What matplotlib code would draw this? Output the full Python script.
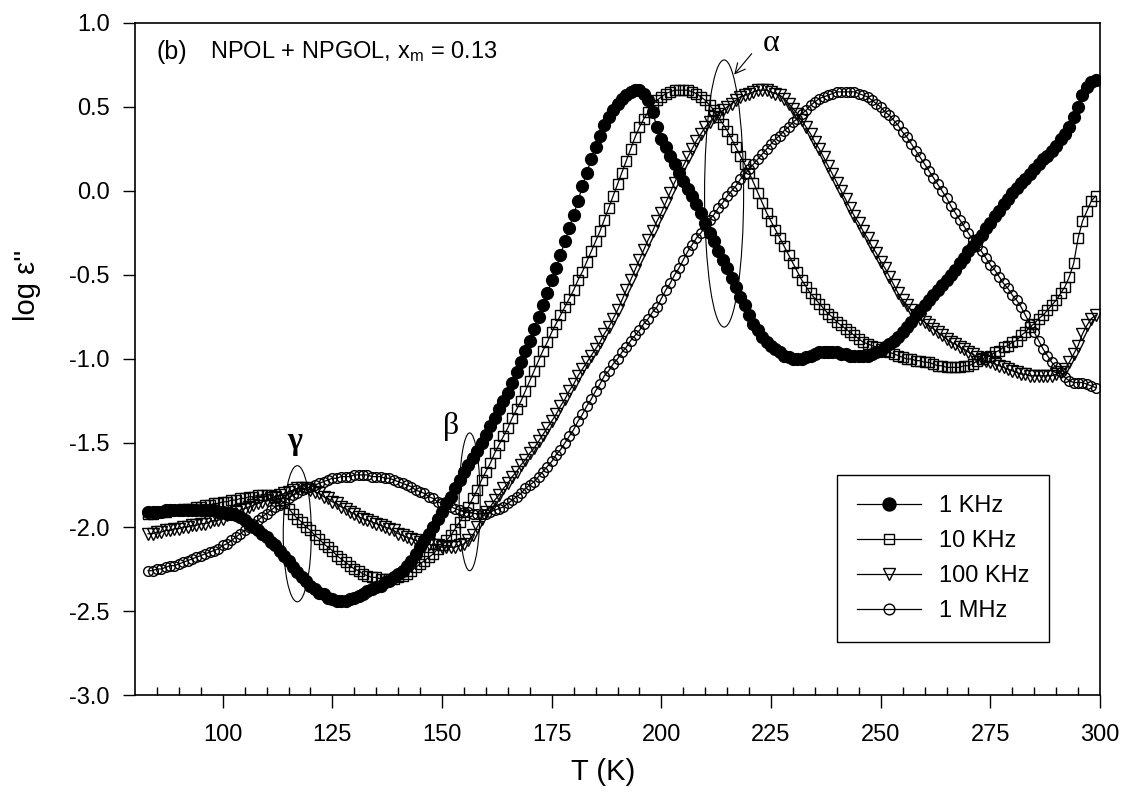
import matplotlib
matplotlib.use("Agg")
import matplotlib.pyplot as plt
from matplotlib.patches import Ellipse
from matplotlib.ticker import FixedLocator

plt.rcParams["font.family"] = ["Liberation Sans", "DejaVu Sans"]
plt.rcParams["axes.unicode_minus"] = False

# measurement temperatures (K)
temperature = [
    83, 84, 85, 86, 87, 88, 89, 90, 91, 92, 93, 94, 95, 96, 97, 98, 99, 100, 101, 102,
    103, 104, 105, 106, 107, 108, 109, 110, 111, 112, 113, 114, 115, 116, 117, 118, 119,
    120, 121, 122, 123, 124, 125, 126, 127, 128, 129, 130, 131, 132, 133, 134, 135, 136,
    137, 138, 139, 140, 141, 142, 143, 144, 145, 146, 147, 148, 149, 150, 151, 152, 153,
    154, 155, 156, 157, 158, 159, 160, 161, 162, 163, 164, 165, 166, 167, 168, 169, 170,
    171, 172, 173, 174, 175, 176, 177, 178, 179, 180, 181, 182, 183, 184, 185, 186, 187,
    188, 189, 190, 191, 192, 193, 194, 195, 196, 197, 198, 199, 200, 201, 202, 203, 204,
    205, 206, 207, 208, 209, 210, 211, 212, 213, 214, 215, 216, 217, 218, 219, 220, 221,
    222, 223, 224, 225, 226, 227, 228, 229, 230, 231, 232, 233, 234, 235, 236, 237, 238,
    239, 240, 241, 242, 243, 244, 245, 246, 247, 248, 249, 250, 251, 252, 253, 254, 255,
    256, 257, 258, 259, 260, 261, 262, 263, 264, 265, 266, 267, 268, 269, 270, 271, 272,
    273, 274, 275, 276, 277, 278, 279, 280, 281, 282, 283, 284, 285, 286, 287, 288, 289,
    290, 291, 292, 293, 294, 295, 296, 297, 298, 299]

# log eps'' at 1 kHz
loss_1k = [
    -1.91, -1.91, -1.91, -1.91, -1.90, -1.90, -1.90, -1.90, -1.90, -1.90, -1.90, -1.90,
    -1.90, -1.90, -1.90, -1.90, -1.91, -1.91, -1.92, -1.92, -1.93, -1.94, -1.96, -1.98,
    -2.00, -2.02, -2.04, -2.06, -2.09, -2.11, -2.14, -2.17, -2.20, -2.24, -2.27, -2.30,
    -2.32, -2.35, -2.37, -2.39, -2.40, -2.42, -2.43, -2.44, -2.44, -2.44, -2.43, -2.42,
    -2.41, -2.40, -2.38, -2.37, -2.36, -2.35, -2.33, -2.32, -2.30, -2.28, -2.26, -2.23,
    -2.20, -2.16, -2.12, -2.08, -2.04, -2.00, -1.95, -1.91, -1.86, -1.82, -1.77, -1.72,
    -1.67, -1.63, -1.59, -1.55, -1.50, -1.45, -1.40, -1.35, -1.30, -1.25, -1.20, -1.14,
    -1.08, -1.02, -0.95, -0.89, -0.82, -0.75, -0.68, -0.61, -0.53, -0.46, -0.38, -0.30,
    -0.22, -0.14, -0.06, 0.03, 0.11, 0.19, 0.26, 0.33, 0.39, 0.44, 0.48, 0.52, 0.55,
    0.57, 0.59, 0.60, 0.60, 0.58, 0.54, 0.47, 0.38, 0.31, 0.26, 0.21, 0.16, 0.11, 0.06,
    0.01, -0.03, -0.08, -0.13, -0.19, -0.25, -0.30, -0.36, -0.41, -0.46, -0.52, -0.57,
    -0.63, -0.68, -0.74, -0.79, -0.83, -0.87, -0.90, -0.92, -0.94, -0.96, -0.98, -0.99,
    -1.00, -1.00, -1.00, -0.99, -0.98, -0.97, -0.96, -0.96, -0.96, -0.96, -0.96, -0.97,
    -0.97, -0.98, -0.98, -0.98, -0.98, -0.98, -0.97, -0.96, -0.95, -0.93, -0.91, -0.89,
    -0.87, -0.84, -0.81, -0.78, -0.74, -0.71, -0.68, -0.65, -0.62, -0.59, -0.56, -0.53,
    -0.50, -0.47, -0.43, -0.40, -0.36, -0.33, -0.29, -0.26, -0.22, -0.19, -0.15, -0.12,
    -0.08, -0.05, -0.01, 0.02, 0.05, 0.07, 0.10, 0.13, 0.16, 0.19, 0.21, 0.24, 0.27,
    0.31, 0.34, 0.38, 0.44, 0.50, 0.57, 0.62, 0.65, 0.66]

# log eps'' at 10 kHz
loss_10k = [
    -1.92, -1.92, -1.91, -1.91, -1.91, -1.90, -1.90, -1.90, -1.89, -1.89, -1.89, -1.88,
    -1.88, -1.87, -1.87, -1.86, -1.86, -1.85, -1.85, -1.84, -1.84, -1.83, -1.83, -1.82,
    -1.82, -1.81, -1.81, -1.81, -1.81, -1.82, -1.84, -1.86, -1.89, -1.92, -1.95, -1.97,
    -2.00, -2.02, -2.05, -2.07, -2.10, -2.12, -2.14, -2.17, -2.19, -2.21, -2.23, -2.25,
    -2.26, -2.28, -2.29, -2.30, -2.30, -2.31, -2.31, -2.31, -2.31, -2.30, -2.29, -2.28,
    -2.26, -2.24, -2.22, -2.20, -2.18, -2.16, -2.13, -2.11, -2.08, -2.05, -2.01, -1.97,
    -1.93, -1.88, -1.83, -1.78, -1.72, -1.67, -1.62, -1.56, -1.51, -1.46, -1.41, -1.35,
    -1.30, -1.25, -1.19, -1.13, -1.07, -1.01, -0.95, -0.90, -0.84, -0.79, -0.74, -0.69,
    -0.64, -0.59, -0.53, -0.48, -0.42, -0.36, -0.30, -0.24, -0.17, -0.10, -0.03, 0.04,
    0.11, 0.18, 0.25, 0.32, 0.38, 0.43, 0.47, 0.51, 0.54, 0.56, 0.58, 0.59, 0.60, 0.60,
    0.60, 0.60, 0.59, 0.58, 0.56, 0.54, 0.51, 0.48, 0.44, 0.40, 0.36, 0.31, 0.26, 0.21,
    0.16, 0.11, 0.05, -0.01, -0.07, -0.13, -0.18, -0.23, -0.28, -0.33, -0.38, -0.43,
    -0.48, -0.53, -0.57, -0.61, -0.64, -0.67, -0.70, -0.73, -0.75, -0.78, -0.80, -0.82,
    -0.84, -0.86, -0.88, -0.90, -0.91, -0.92, -0.93, -0.94, -0.95, -0.96, -0.97, -0.98,
    -0.99, -1.00, -1.00, -1.01, -1.01, -1.02, -1.02, -1.03, -1.04, -1.04, -1.05, -1.05,
    -1.05, -1.05, -1.04, -1.04, -1.03, -1.01, -1.00, -0.99, -0.98, -0.96, -0.95, -0.93,
    -0.92, -0.90, -0.89, -0.86, -0.84, -0.81, -0.79, -0.76, -0.74, -0.71, -0.68, -0.65,
    -0.61, -0.57, -0.51, -0.43, -0.28, -0.18, -0.12, -0.06, -0.03]

# log eps'' at 100 kHz
loss_100k = [
    -2.04, -2.04, -2.03, -2.03, -2.02, -2.02, -2.01, -2.01, -2.00, -2.00, -1.99, -1.99,
    -1.98, -1.98, -1.97, -1.96, -1.96, -1.95, -1.93, -1.92, -1.91, -1.90, -1.89, -1.88,
    -1.87, -1.86, -1.85, -1.84, -1.83, -1.82, -1.81, -1.80, -1.79, -1.78, -1.77, -1.77,
    -1.77, -1.78, -1.79, -1.80, -1.82, -1.83, -1.85, -1.86, -1.88, -1.89, -1.91, -1.92,
    -1.94, -1.95, -1.96, -1.97, -1.98, -1.99, -2.00, -2.01, -2.02, -2.04, -2.05, -2.06,
    -2.07, -2.08, -2.09, -2.10, -2.10, -2.11, -2.11, -2.12, -2.12, -2.12, -2.12, -2.11,
    -2.10, -2.08, -2.05, -2.00, -1.95, -1.91, -1.88, -1.84, -1.81, -1.77, -1.74, -1.70,
    -1.67, -1.63, -1.60, -1.56, -1.53, -1.49, -1.45, -1.41, -1.37, -1.33, -1.28, -1.24,
    -1.19, -1.15, -1.10, -1.06, -1.02, -0.98, -0.94, -0.90, -0.85, -0.81, -0.76, -0.71,
    -0.65, -0.59, -0.53, -0.47, -0.41, -0.35, -0.29, -0.24, -0.18, -0.13, -0.07, -0.01,
    0.05, 0.10, 0.15, 0.20, 0.25, 0.30, 0.34, 0.38, 0.41, 0.44, 0.46, 0.48, 0.50, 0.52,
    0.54, 0.56, 0.57, 0.58, 0.59, 0.60, 0.60, 0.60, 0.59, 0.58, 0.57, 0.55, 0.52, 0.49,
    0.46, 0.42, 0.38, 0.34, 0.29, 0.25, 0.20, 0.15, 0.10, 0.05, 0.00, -0.05, -0.10,
    -0.15, -0.19, -0.24, -0.28, -0.33, -0.37, -0.42, -0.46, -0.51, -0.56, -0.61, -0.65,
    -0.68, -0.71, -0.74, -0.76, -0.78, -0.80, -0.82, -0.84, -0.86, -0.88, -0.90, -0.91,
    -0.93, -0.94, -0.96, -0.97, -0.99, -1.00, -1.01, -1.02, -1.03, -1.04, -1.05, -1.06,
    -1.07, -1.08, -1.09, -1.09, -1.10, -1.10, -1.10, -1.10, -1.10, -1.10, -1.09, -1.08,
    -1.06, -1.02, -0.97, -0.92, -0.85, -0.80, -0.76, -0.74]

# log eps'' at 1 MHz
loss_1m = [
    -2.26, -2.26, -2.25, -2.25, -2.24, -2.23, -2.23, -2.22, -2.21, -2.20, -2.19, -2.18,
    -2.17, -2.16, -2.15, -2.14, -2.13, -2.11, -2.10, -2.08, -2.06, -2.04, -2.02, -2.00,
    -1.98, -1.96, -1.94, -1.92, -1.90, -1.88, -1.87, -1.85, -1.83, -1.81, -1.80, -1.78,
    -1.77, -1.76, -1.75, -1.74, -1.73, -1.72, -1.71, -1.71, -1.70, -1.70, -1.70, -1.69,
    -1.69, -1.69, -1.69, -1.70, -1.70, -1.70, -1.71, -1.71, -1.72, -1.73, -1.74, -1.75,
    -1.76, -1.78, -1.79, -1.80, -1.82, -1.83, -1.85, -1.86, -1.87, -1.88, -1.89, -1.90,
    -1.91, -1.91, -1.92, -1.92, -1.92, -1.92, -1.91, -1.90, -1.89, -1.88, -1.86, -1.84,
    -1.82, -1.80, -1.77, -1.75, -1.73, -1.70, -1.67, -1.64, -1.61, -1.57, -1.54, -1.50,
    -1.46, -1.42, -1.37, -1.33, -1.28, -1.24, -1.19, -1.15, -1.10, -1.07, -1.03, -1.00,
    -0.96, -0.93, -0.89, -0.86, -0.83, -0.79, -0.76, -0.72, -0.69, -0.64, -0.59, -0.55,
    -0.50, -0.46, -0.41, -0.36, -0.32, -0.28, -0.25, -0.21, -0.17, -0.14, -0.10, -0.07,
    -0.03, 0.00, 0.03, 0.07, 0.10, 0.13, 0.16, 0.19, 0.22, 0.25, 0.28, 0.31, 0.33,
    0.36, 0.38, 0.41, 0.43, 0.46, 0.48, 0.51, 0.53, 0.55, 0.56, 0.57, 0.58, 0.59, 0.59,
    0.59, 0.59, 0.59, 0.58, 0.57, 0.56, 0.54, 0.52, 0.50, 0.47, 0.45, 0.42, 0.39, 0.35,
    0.32, 0.28, 0.24, 0.20, 0.16, 0.12, 0.08, 0.04, 0.00, -0.04, -0.09, -0.13, -0.17,
    -0.21, -0.25, -0.29, -0.33, -0.36, -0.40, -0.44, -0.47, -0.51, -0.55, -0.58, -0.62,
    -0.65, -0.69, -0.74, -0.79, -0.84, -0.89, -0.94, -0.98, -1.02, -1.05, -1.08, -1.11,
    -1.13, -1.14, -1.14, -1.14, -1.15, -1.16, -1.17]

fig = plt.figure(figsize=(11.21, 8.09), dpi=100)
ax = fig.add_axes([0.1204, 0.1409, 0.8609, 0.8307])

line_kw = dict(color="black", linewidth=0.9, markeredgecolor="black", markeredgewidth=1.0)
ax.plot(temperature, loss_1m, marker="o", markersize=7, markerfacecolor="none",
        label="1 MHz", zorder=3, **line_kw)
ax.plot(temperature, loss_100k, marker="v", markersize=8, markerfacecolor="none",
        label="100 KHz", zorder=4, **line_kw)
ax.plot(temperature, loss_10k, marker="s", markersize=7, markerfacecolor="none",
        label="10 KHz", zorder=5, **line_kw)
ax.plot(temperature, loss_1k, marker="o", markersize=8.5, markerfacecolor="black",
        label="1 KHz", zorder=6, **line_kw)

# gamma, beta and alpha relaxations
for xc, yc, w, h in [(117.0, -2.04, 6.4, 0.81), (156.3, -1.85, 4.8, 0.82),
                     (214.3, -0.015, 8.9, 1.59)]:
    ax.add_patch(Ellipse((xc, yc), w, h, fill=False, edgecolor="black",
                         linewidth=0.8, zorder=7))

greek = dict(family=["Liberation Serif", "DejaVu Serif"], fontsize=23, ha="center",
             va="center")
ax.text(116.5, -1.49, "γ", fontweight="bold", **greek)
ax.text(152.0, -1.40, "β", **greek)
ax.text(225.0, 0.88, "α", **greek)
ax.annotate("", xy=(216.2, 0.68), xytext=(221.0, 0.83),
            arrowprops=dict(arrowstyle="->", color="black", lw=0.8,
                            mutation_scale=18))

ax.text(0.0228, 0.957, "(b)", transform=ax.transAxes, fontsize=18,
        va="center", ha="left")
ax.text(0.0777, 0.957, r"NPOL + NPGOL, $\mathregular{x_m}$ = 0.13",
        transform=ax.transAxes, fontsize=17, va="center", ha="left")

ax.set_xlim(80, 300)
ax.set_ylim(-3.0, 1.0)
ax.xaxis.set_major_locator(FixedLocator([100, 125, 150, 175, 200, 225, 250, 275, 300]))
ax.xaxis.set_minor_locator(FixedLocator([t for t in range(85, 300, 5) if t % 25]))
ax.set_yticks([-3.0, -2.5, -2.0, -1.5, -1.0, -0.5, 0.0, 0.5, 1.0])
ax.set_yticklabels(["-3.0", "-2.5", "-2.0", "-1.5", "-1.0", "-0.5", "0.0", "0.5", "1.0"])

ax.tick_params(axis="x", which="major", direction="out", length=9, width=1.0,
               labelsize=17, pad=12, top=False)
ax.tick_params(axis="x", which="minor", direction="in", length=6, width=1.0, top=False)
ax.tick_params(axis="y", which="major", direction="out", length=9, width=1.0,
               labelsize=17, pad=9, right=False)
for sp in ax.spines.values():
    sp.set_linewidth(1.2)

ax.set_xlabel("T (K)", fontsize=21)
ax.set_ylabel("log ε''", fontsize=21)
ax.xaxis.set_label_coords(0.485, -0.094)
ax.yaxis.set_label_coords(-0.097, 0.61)

handles, labels = ax.get_legend_handles_labels()
order = [3, 2, 1, 0]
leg = ax.legend([handles[i] for i in order], [labels[i] for i in order],
                loc="upper left", bbox_to_anchor=(0.7275, 0.327), borderaxespad=0,
                fontsize=17, frameon=True, fancybox=False, edgecolor="black",
                framealpha=1, borderpad=0.85, labelspacing=0.55, handlelength=2.7,
                handletextpad=0.75, markerscale=1.1)
leg.get_frame().set_linewidth(1.0)

fig.savefig("out.png", dpi=100)
